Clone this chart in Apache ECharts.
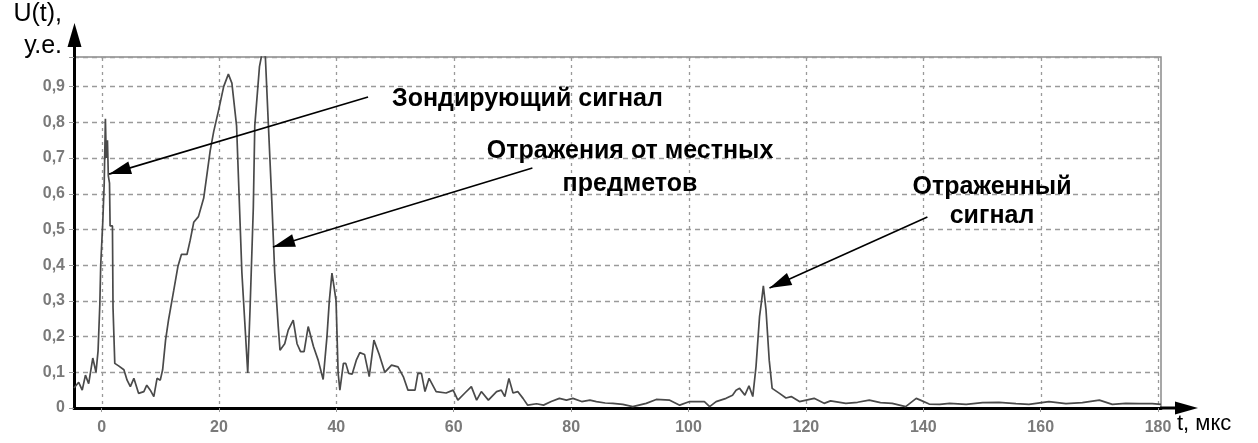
<!DOCTYPE html>
<html>
<head>
<meta charset="utf-8">
<title>U(t)</title>
<script src="https://cdn.jsdelivr.net/npm/echarts@6/dist/echarts.min.js"></script>
<style>
  html, body { margin: 0; padding: 0; background: #ffffff; }
  #chart { width: 1258px; height: 443px; }
</style>
</head>
<body>
<div id="chart"></div>
<script>
// Time samples, microseconds
const timeUs = [
  -4.7, -3.9, -3.3, -2.75, -2.2, -1.5, -0.95, -0.6, -0.3, -0.15,
  0.2, 0.45, 0.65, 0.8, 1.0, 1.15, 1.35, 1.45, 1.85, 1.95,
  2.25, 2.9, 3.8, 4.35, 4.9, 5.5, 6.3, 7.2, 7.7, 8.3,
  8.9, 9.45, 10.0, 10.4, 10.9, 11.4, 12.3, 13.0, 13.6, 14.55,
  15.1, 15.7, 16.5, 17.4, 18.0, 18.5, 19.1, 19.95, 20.8, 21.6,
  22.2, 23.0, 23.9, 24.4, 24.9, 25.3, 25.85, 26.1, 26.9, 27.3,
  27.9, 28.4, 29.0, 29.5, 30.1, 30.4, 31.2, 31.8, 32.65, 33.3,
  33.9, 34.5, 35.2, 36.1, 36.9, 37.75, 38.4, 38.8, 39.25, 39.6,
  39.95, 40.3, 40.6, 41.2, 41.6, 42.1, 42.7, 43.4, 44.0, 44.8,
  45.6, 46.4, 47.3, 48.25, 49.4, 50.5, 51.4, 52.2, 53.4, 53.9,
  54.5, 55.1, 55.8, 57.0, 58.7, 59.9, 60.7, 61.9, 63.0, 63.9,
  64.7, 65.9, 67.3, 68.1, 68.7, 69.4, 70.1, 70.9, 71.8, 72.6,
  74.1, 75.3, 76.6, 78.0, 79.2, 80.3, 81.8, 83.2, 84.3, 85.8,
  87.1, 88.8, 90.5, 92.8, 94.5, 96.8, 98.5, 100.2, 102.7, 103.6,
  104.7, 106.4, 107.5, 108.1, 108.7, 109.0, 109.6, 110.3, 110.95, 111.5,
  112.1, 112.45, 112.75, 113.2, 113.75, 114.25, 115.5, 116.6, 117.5, 118.9,
  121.4, 123.1, 124.2, 126.8, 128.8, 130.8, 132.7, 134.7, 137.0, 138.8,
  139.5, 141.0, 142.8, 144.5, 147.3, 150.1, 152.9, 155.8, 158.0, 161.4,
  164.3, 167.1, 170.0, 172.2, 174.5, 176.8, 179.0, 180.5
];

// Signal amplitude U(t), arbitrary units
const amplitude = [
  0.056, 0.072, 0.05, 0.092, 0.068, 0.14, 0.10, 0.16, 0.29, 0.40,
  0.52, 0.63, 0.81, 0.70, 0.75, 0.65, 0.63, 0.51, 0.51, 0.28,
  0.125, 0.118, 0.107, 0.078, 0.06, 0.083, 0.041, 0.046, 0.064, 0.05,
  0.032, 0.083, 0.078, 0.107, 0.19, 0.246, 0.33, 0.396, 0.43, 0.43,
  0.47, 0.52, 0.536, 0.588, 0.66, 0.72, 0.774, 0.835, 0.90, 0.935,
  0.91, 0.79, 0.38, 0.24, 0.098, 0.28, 0.56, 0.79, 0.956, 0.99,
  0.985, 0.80, 0.58, 0.378, 0.228, 0.162, 0.18, 0.218, 0.246, 0.18,
  0.158, 0.158, 0.228, 0.172, 0.134, 0.08, 0.2, 0.30, 0.378, 0.34,
  0.30, 0.098, 0.05, 0.125, 0.125, 0.097, 0.095, 0.134, 0.155, 0.15,
  0.088, 0.19, 0.15, 0.10, 0.12, 0.115, 0.088, 0.05, 0.05, 0.097,
  0.097, 0.046, 0.083, 0.046, 0.042, 0.05, 0.022, 0.042, 0.06, 0.022,
  0.046, 0.022, 0.046, 0.05, 0.032, 0.083, 0.042, 0.046, 0.027, 0.008,
  0.012, 0.008, 0.018, 0.027, 0.022, 0.027, 0.018, 0.022, 0.018, 0.014,
  0.013, 0.01, 0.004, 0.013, 0.024, 0.022, 0.008, 0.018, 0.018, 0.004,
  0.018, 0.027, 0.036, 0.05, 0.055, 0.053, 0.036, 0.062, 0.032, 0.116,
  0.256, 0.30, 0.342, 0.275, 0.134, 0.055, 0.041, 0.028, 0.032, 0.018,
  0.027, 0.013, 0.02, 0.013, 0.016, 0.022, 0.015, 0.013, 0.004, 0.027,
  0.022, 0.011, 0.01, 0.013, 0.01, 0.015, 0.016, 0.012, 0.01, 0.018,
  0.012, 0.015, 0.022, 0.01, 0.013, 0.012, 0.012, 0.01
];

// Axis ticks
const xTickValues = [0, 20, 40, 60, 80, 100, 120, 140, 160, 180];
const yTickValues = [0, 0.1, 0.2, 0.3, 0.4, 0.5, 0.6, 0.7, 0.8, 0.9];
const yTickLabels = ['0', '0,1', '0,2', '0,3', '0,4', '0,5', '0,6', '0,7', '0,8', '0,9'];

// Axis extents
const xMin = -4.7, xMax = 180.5;
const yMin = 0, yMax = 0.983;

// Callouts: caption, arrow tail and arrow tip in data coordinates
const calloutTexts = ['Зондирующий сигнал', 'Отражения от местных\nпредметов', 'Отраженный\nсигнал'];
const calloutTails = [[45.4, 0.871], [73.4, 0.672], [140.7, 0.535]];
const calloutTips = [[1.28, 0.655], [29.2, 0.451], [113.8, 0.336]];

const axisTitleY = ['U(t),', 'у.е.'];
const axisTitleX = 't, мкс';

const chart = echarts.init(document.getElementById('chart'), null, { renderer: 'canvas' });

const seriesData = timeUs.map((t, i) => [t, amplitude[i]]);

// arrow head whose tip sits at the symbol centre
const arrowHead = 'path://M0,0 M0,20 L-6,40 L6,40 Z';

const labelFont = '"Liberation Sans Narrow", "Arial Narrow", "Liberation Sans", Arial, sans-serif';
const textFont = '"Liberation Sans", Arial, sans-serif';
const gridGray = '#9a9a9a';

chart.setOption({
  animation: false,
  backgroundColor: '#ffffff',
  grid: {
    left: 74, right: 97, top: 57, bottom: 35,
    show: true, borderColor: '#8a8a8a', borderWidth: 1.5, backgroundColor: 'transparent'
  },
  xAxis: {
    type: 'value', min: xMin, max: xMax,
    axisLine: { show: true, onZero: false, lineStyle: { color: '#000', width: 3 } },
    axisTick: { show: true, customValues: xTickValues, length: 4, lineStyle: { color: '#999', width: 1 } },
    axisLabel: {
      customValues: xTickValues, margin: 12,
      color: '#7a7a7a', fontSize: 16, fontWeight: 'bold', fontFamily: labelFont
    },
    splitLine: { show: false }
  },
  yAxis: {
    type: 'value', min: yMin, max: yMax, interval: 0.1,
    axisLine: { show: true, onZero: false, lineStyle: { color: '#000', width: 3 } },
    axisTick: { show: true, length: 5, lineStyle: { color: '#999', width: 1 } },
    axisLabel: {
      margin: 9, color: '#7a7a7a', fontSize: 16, fontWeight: 'bold', fontFamily: labelFont,
      formatter: v => {
        const k = yTickValues.findIndex(t => Math.abs(t - v) < 1e-6);
        return k >= 0 ? yTickLabels[k] : '';
      }
    },
    splitLine: { show: true, lineStyle: { color: gridGray, width: 1.3, type: [5, 4] } }
  },
  series: [
    {
      type: 'line', data: seriesData, z: 3,
      showSymbol: false, symbol: 'none', smooth: false,
      lineStyle: { color: '#4a4a4a', width: 1.7 },
      markLine: {
        silent: true, animation: false,
        symbol: ['none', arrowHead],
        label: { show: false },
        lineStyle: { color: '#000', width: 1.6, type: 'solid' },
        data: calloutTails.map((p, i) => [
          { coord: p },
          { coord: calloutTips[i], symbol: arrowHead, symbolSize: [13, 44] }
        ])
      }
    }
  ]
});

// vertical grid lines, axis arrows, axis titles and captions
const origin = chart.convertToPixel({ gridIndex: 0 }, [xMin, yMin]);
const xEnd = chart.convertToPixel({ gridIndex: 0 }, [xMax, yMin]);
const yEnd = chart.convertToPixel({ gridIndex: 0 }, [xMin, yMax]);
const ax = origin[0] + 0.5, ay = origin[1];
const capFont = 'bold 25px ' + textFont;

const vGrid = xTickValues.map(v => {
  const px = Math.round(chart.convertToPixel({ xAxisIndex: 0 }, v)) + 0.5;
  return {
    type: 'line', z: -1, silent: true,
    shape: { x1: px, y1: yEnd[1] + 1, x2: px, y2: ay },
    style: { stroke: gridGray, lineWidth: 1.3, lineDash: [3, 4] }
  };
});

chart.setOption({
  graphic: vGrid.concat([
    { type: 'line', shape: { x1: ax, y1: yEnd[1] + 1, x2: ax, y2: 42 }, style: { stroke: '#000', lineWidth: 3 } },
    { type: 'polygon', shape: { points: [[ax - 7, 47], [ax, 23], [ax + 7, 47]] }, style: { fill: '#000' } },
    { type: 'line', shape: { x1: xEnd[0] - 1, y1: ay, x2: 1180, y2: ay }, style: { stroke: '#000', lineWidth: 3 } },
    { type: 'polygon', shape: { points: [[1175, ay - 6.5], [1198, ay], [1175, ay + 6.5]] }, style: { fill: '#000' } },
    { type: 'text', style: { text: axisTitleY[0], x: 62, y: 14, textAlign: 'right', textVerticalAlign: 'middle', font: '25px ' + textFont, fill: '#000' } },
    { type: 'text', style: { text: axisTitleY[1], x: 62, y: 46, textAlign: 'right', textVerticalAlign: 'middle', font: '25px ' + textFont, fill: '#000' } },
    { type: 'text', style: { text: axisTitleX, x: 1177, y: 424, textAlign: 'left', textVerticalAlign: 'middle', font: '22px ' + textFont, fill: '#000' } },
    { type: 'text', style: { text: calloutTexts[0], x: 392, y: 99, textAlign: 'left', textVerticalAlign: 'middle', font: capFont, fill: '#000' } },
    { type: 'text', style: { text: calloutTexts[1], x: 630, y: 168, textAlign: 'center', textVerticalAlign: 'middle', lineHeight: 33, font: capFont, fill: '#000' } },
    { type: 'text', style: { text: calloutTexts[2], x: 992, y: 202, textAlign: 'center', textVerticalAlign: 'middle', lineHeight: 29, font: capFont, fill: '#000' } }
  ])
});
</script>
</body>
</html>
